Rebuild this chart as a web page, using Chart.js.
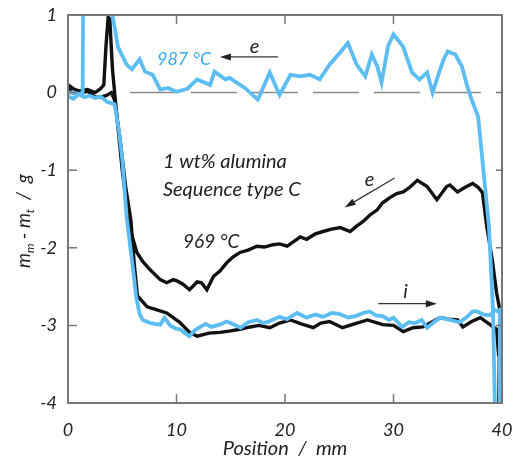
<!DOCTYPE html>
<html>
<head>
<meta charset="utf-8">
<script src="https://cdn.jsdelivr.net/npm/chart.js@4.4.0/dist/chart.umd.min.js"></script>
<style>
  html, body { margin: 0; padding: 0; background: #fff; }
</style>
</head>
<body>
<canvas id="chart" width="515" height="464"></canvas>
<script>
// x ticks / y ticks
const xTicks = [0, 10, 20, 30, 40];
const yTicks = [1, 0, -1, -2, -3, -4];

// 987 C, increasing position (i)
const blueInX = [
  0, 0.5, 1.0, 1.5, 2.0, 2.5, 3.0, 3.6, 4.3, 4.7,
  5.0, 5.4, 6.0, 6.3, 6.6, 6.9, 7.6, 8.0, 8.5, 8.9,
  9.4, 9.9, 10.3, 10.8, 11.2, 11.7, 12.2, 12.7, 13.2, 14.0,
  14.6, 15.0, 15.9, 16.6, 17.4, 18.0, 18.5, 19.5, 20.2, 21.1,
  22.0, 22.8, 23.5, 24.3, 25.0, 25.8, 26.5, 27.2, 27.8, 28.4,
  29.0, 29.6, 30.0, 30.8, 31.4, 32.0, 32.6, 33.1, 33.8, 34.3,
  35.2, 36.1, 36.7, 37.3, 37.7, 38.3, 38.9, 39.3, 39.6, 39.8,
  39.8
];
const blueInY = [
  -0.05, -0.08, -0.02, -0.06, -0.04, -0.07, -0.05, -0.12, -0.15, -0.5,
  -0.85, -1.6, -2.28, -2.65, -2.85, -2.93, -2.97, -2.98, -2.99, -2.9,
  -3.0, -3.04, -3.05, -3.1, -3.14, -3.06, -3.02, -2.98, -3.02, -2.99,
  -2.95, -2.97, -3.03, -2.96, -2.93, -2.97, -2.95, -2.89, -2.92, -2.84,
  -2.9, -2.86, -2.89, -2.84, -2.85, -2.9, -2.88, -2.84, -2.82, -2.87,
  -2.88, -2.93, -2.9, -3.02, -2.96, -2.97, -2.93, -3.03, -2.95, -2.9,
  -2.93, -2.96, -2.9, -2.82, -2.82, -2.86, -2.87, -2.8, -2.82, -2.8,
  -4.1
];

// 987 C, decreasing position (e)
const blueExX = [
  39.35, 39.17, 38.8, 38.25, 37.8, 37.2, 36.8, 36.3, 35.7, 35.0,
  34.6, 34.3, 33.6, 33.1, 32.4, 31.7, 30.9, 30.0, 29.5, 28.9,
  28.5, 28.0, 27.4, 26.6, 25.8, 25.1, 24.1, 23.2, 22.3, 21.4,
  20.5, 19.5, 18.6, 17.5, 16.3, 14.9, 14.5, 13.5, 13.1, 11.9,
  11.0, 10.0, 9.2, 8.5, 7.8, 7.1, 6.6, 5.9, 5.4, 4.6,
  4.1, 4.0, 1.4, 1.35, 1.0, 0.5, 0
];
const blueExY = [
  -4.1, -2.8, -1.73, -0.95, -0.31, -0.09, 0.08, 0.34, 0.49, 0.53,
  0.42, 0.3, 0.0, 0.26, 0.17, 0.26, 0.59, 0.75, 0.6, 0.13,
  0.34, 0.49, 0.21, 0.36, 0.64, 0.52, 0.36, 0.17, 0.23, 0.21,
  0.23, -0.03, 0.26, -0.09, 0.06, 0.19, 0.17, 0.27, 0.1, 0.17,
  0.05, 0.01, 0.06, 0.04, 0.23, 0.27, 0.43, 0.3, 0.36, 0.59,
  1.0, 1.3, 1.3, 0.0, -0.02, 0.0, 0.0
];

// 969 C, increasing position (i)
const blackInX = [
  0, 0.3, 1.0, 1.8, 2.5, 3.0, 3.5, 4.0, 4.3, 4.8,
  5.3, 5.8, 6.1, 6.4, 7.3, 8.2, 9.1, 10.3, 11.2, 11.9,
  13.0, 14.0, 15.0, 15.85, 16.8, 17.6, 18.6, 19.5, 20.5, 21.5,
  22.6, 23.3, 24.1, 25.3, 26.4, 27.6, 29.0, 30.0, 30.9, 31.8,
  32.7, 33.5, 34.3, 35.1, 35.9, 36.4, 37.2, 38.0, 38.9, 39.5,
  39.7
];
const blackInY = [
  0.1, 0.0, -0.02, 0.02, -0.06, -0.06, -0.04, 0.0, -0.1, -0.6,
  -1.2, -1.65, -2.2, -2.62, -2.76, -2.8, -2.84, -2.96, -3.09, -3.14,
  -3.1, -3.09, -3.07, -3.05, -3.02, -3.0, -3.03, -2.97, -2.93, -2.98,
  -3.03, -2.97, -2.95, -3.03, -2.98, -2.93, -2.99, -3.0, -3.08, -3.03,
  -3.02, -2.96, -2.9, -2.92, -2.93, -3.02, -2.95, -2.9, -2.99, -3.05,
  -3.4
];

// 969 C, decreasing position (e)
const blackExX = [
  39.7, 39.8, 39.5, 39.1, 38.6, 38.2, 37.8, 37.3, 36.6, 35.9,
  35.2, 34.9, 34.0, 33.1, 32.2, 31.5, 30.9, 30.3, 29.7, 29.0,
  28.5, 27.8, 27.2, 26.6, 26.0, 25.1, 24.3, 23.5, 22.8, 22.0,
  21.4, 20.8, 20.2, 19.5, 18.9, 18.1, 17.4, 16.6, 15.85, 15.2,
  14.65, 14.0, 13.4, 12.8, 12.3, 11.9, 11.2, 10.6, 10.1, 9.7,
  9.1, 8.5, 7.55, 6.9, 6.35, 5.8, 5.4, 5.0, 4.5, 4.1,
  3.85, 3.7, 3.5, 3.3, 3.0, 2.5, 1.8, 1.0, 0.5, 0
];
const blackExY = [
  -4.1, -2.8, -2.58, -2.15, -1.73, -1.29, -1.22, -1.17, -1.22, -1.28,
  -1.19, -1.21, -1.38, -1.21, -1.13, -1.22, -1.28, -1.3, -1.35, -1.42,
  -1.51, -1.58, -1.66, -1.72, -1.79, -1.74, -1.76, -1.79, -1.82, -1.89,
  -1.86, -1.92, -1.98, -1.95, -1.96, -1.99, -1.98, -2.03, -2.06, -2.12,
  -2.19, -2.3, -2.37, -2.54, -2.45, -2.44, -2.54, -2.47, -2.43, -2.41,
  -2.45, -2.41, -2.28, -2.18, -2.06, -1.8, -1.45, -1.0, -0.3, 0.3,
  0.95, 0.97, 0.6, 0.1, 0.05, 0.0, 0.04, 0.02, 0.05, 0.1
];

// dashed reference at zero
const zeroX = [5.7, 38.4];
const zeroY = [0, 0];

const BLUE = "#5cbdf3";
const BLACK = "#111111";
const FONT = "Lato, 'Open Sans', sans-serif";

const pts = (xs, ys) => xs.map((x, i) => ({ x: x, y: ys[i] }));

const line = (label, xs, ys, color, width) => ({
  label: label,
  data: pts(xs, ys),
  borderColor: color,
  borderWidth: width,
  pointRadius: 0,
  showLine: true,
  tension: 0,
  fill: false,
});

const arrow = (ctx, x1, y1, x2, y2) => {
  const a = Math.atan2(y2 - y1, x2 - x1);
  ctx.beginPath();
  ctx.moveTo(x1, y1);
  ctx.lineTo(x2 - 8 * Math.cos(a), y2 - 8 * Math.sin(a));
  ctx.stroke();
  ctx.beginPath();
  ctx.moveTo(x2, y2);
  ctx.lineTo(x2 - 11 * Math.cos(a) + 3.5 * Math.sin(a), y2 - 11 * Math.sin(a) - 3.5 * Math.cos(a));
  ctx.lineTo(x2 - 11 * Math.cos(a) - 3.5 * Math.sin(a), y2 - 11 * Math.sin(a) + 3.5 * Math.cos(a));
  ctx.closePath();
  ctx.fill();
};

const decor = {
  id: "decor",
  afterDatasetsDraw(chart) {
    const { ctx, chartArea: a, scales } = chart;
    const px = (v) => scales.x.getPixelForValue(v);
    const py = (v) => scales.y.getPixelForValue(v);
    ctx.save();

    // frame + inward ticks
    ctx.strokeStyle = "#777";
    ctx.lineWidth = 2;
    ctx.strokeRect(a.left, a.top, a.right - a.left, a.bottom - a.top);
    ctx.lineWidth = 1.5;
    ctx.beginPath();
    xTicks.slice(1, -1).forEach((v) => {
      ctx.moveTo(px(v), a.bottom); ctx.lineTo(px(v), a.bottom - 9);
      ctx.moveTo(px(v), a.top); ctx.lineTo(px(v), a.top + 9);
    });
    yTicks.slice(1, -1).forEach((v) => {
      ctx.moveTo(a.left, py(v)); ctx.lineTo(a.left + 9, py(v));
      ctx.moveTo(a.right, py(v)); ctx.lineTo(a.right - 6, py(v));
    });
    ctx.stroke();

    // annotations
    ctx.textBaseline = "middle";
    ctx.textAlign = "left";
    ctx.font = "italic 18px " + FONT;
    ctx.fillStyle = "#3aa9ef";
    ctx.fillText("987 °C", px(8.2), py(0.43));
    ctx.fillStyle = "#222";
    ctx.font = "italic 19px " + FONT;
    ctx.fillText("969 °C", px(10.6), py(-1.92));
    ctx.font = "italic 20px " + FONT;
    ctx.fillText("1 wt% alumina", px(8.75), py(-0.89));
    ctx.fillText("Sequence type C", px(8.75), py(-1.25));
    ctx.textAlign = "center";
    ctx.fillText("e", px(17.2), py(0.59));
    ctx.fillText("e", px(27.8), py(-1.12));
    ctx.fillText("i", px(31.1), py(-2.56));

    ctx.strokeStyle = "#333";
    ctx.fillStyle = "#222";
    ctx.lineWidth = 1.2;
    arrow(ctx, px(19.35), py(0.46), px(14.0), py(0.46));
    arrow(ctx, px(30.1), py(-1.10), px(25.5), py(-1.48));
    arrow(ctx, px(28.6), py(-2.72), px(34.0), py(-2.72));

    // y title with subscripts
    const parts = [
      ["m", 19, 0], ["m", 12, 4], [" - ", 19, 0], ["m", 19, 0], ["t", 12, 4], ["  /  g", 19, 0],
    ];
    let total = 0;
    parts.forEach(([s, f]) => { ctx.font = "italic " + f + "px " + FONT; total += ctx.measureText(s).width; });
    ctx.translate(30, 221);
    ctx.rotate(-Math.PI / 2);
    ctx.textAlign = "left";
    ctx.textBaseline = "alphabetic";
    let x = -total / 2;
    parts.forEach(([s, f, dy]) => {
      ctx.font = "italic " + f + "px " + FONT;
      ctx.fillText(s, x, dy);
      x += ctx.measureText(s).width;
    });
    ctx.restore();
  },
};

new Chart(document.getElementById("chart"), {
  type: "scatter",
  data: {
    datasets: [
      line("987 °C e", blueExX, blueExY, BLUE, 3.8),
      line("987 °C i", blueInX, blueInY, BLUE, 3.8),
      line("969 °C e", blackExX, blackExY, BLACK, 3.4),
      line("969 °C i", blackInX, blackInY, BLACK, 3.4),
      Object.assign(line("zero", zeroX, zeroY, "#8a8a8a", 1.5), { borderDash: [46, 15] }),
    ],
  },
  options: {
    responsive: false,
    animation: false,
    layout: { padding: { top: 15, right: 13, left: 0, bottom: 0 } },
    plugins: { legend: { display: false }, tooltip: { enabled: false } },
    scales: {
      x: {
        type: "linear",
        min: 0,
        max: 40,
        afterBuildTicks: (s) => { s.ticks = xTicks.map((v) => ({ value: v })); },
        afterFit: (s) => { s.height = 61; s.paddingLeft = 0; s.paddingRight = 0; },
        grid: { display: false, drawTicks: false },
        border: { display: false },
        ticks: { padding: 16, color: "#222", font: { family: FONT, size: 18, style: "italic" } },
        title: {
          display: true,
          text: "Position  /  mm",
          color: "#222",
          padding: { top: 0, bottom: 3 },
          font: { family: FONT, size: 20, style: "italic" },
        },
      },
      y: {
        min: -4,
        max: 1,
        afterBuildTicks: (s) => { s.ticks = yTicks.map((v) => ({ value: v })); },
        afterFit: (s) => { s.width = 68; s.paddingTop = 0; s.paddingBottom = 0; },
        grid: { display: false, drawTicks: false },
        border: { display: false },
        ticks: { padding: 11, color: "#222", font: { family: FONT, size: 18, style: "italic" } },
      },
    },
  },
  plugins: [decor],
});
</script>
</body>
</html>
